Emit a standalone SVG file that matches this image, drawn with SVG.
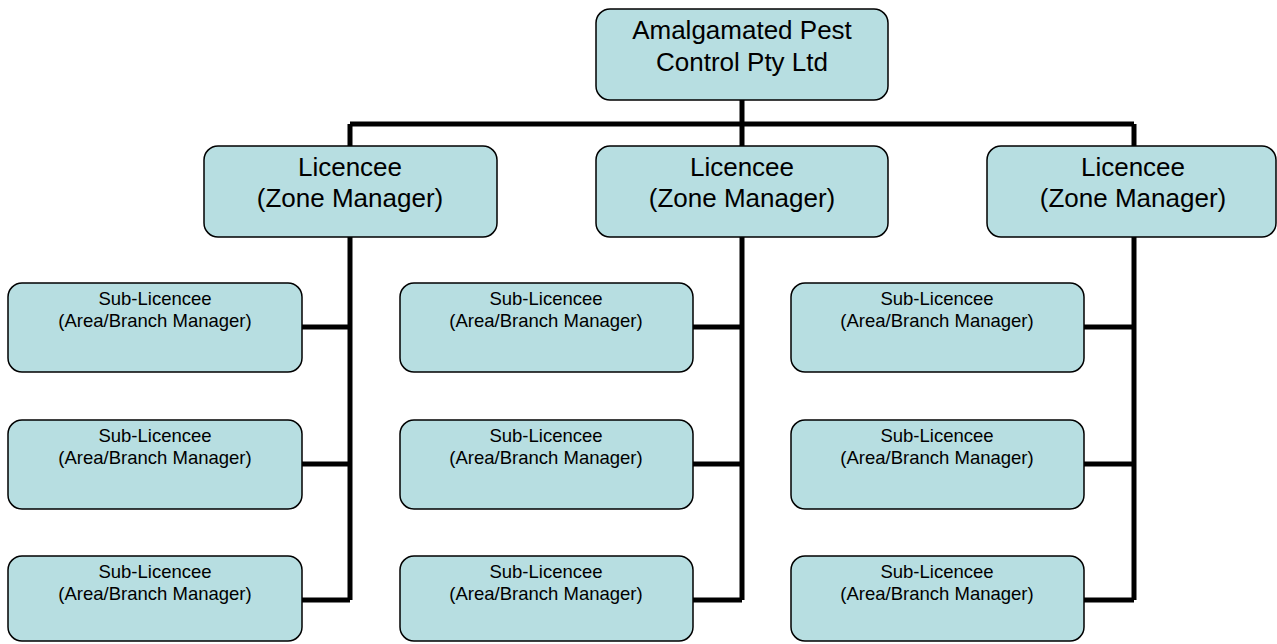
<svg xmlns="http://www.w3.org/2000/svg" width="1277" height="644" viewBox="0 0 1277 644">
<style>
.box{fill:#B7DEE1;stroke:#000;stroke-width:1.5}
.t1{font-family:"Liberation Sans",Arial,sans-serif;font-size:26px;fill:#000;text-anchor:middle}
.t2{font-family:"Liberation Sans",Arial,sans-serif;font-size:18.5px;fill:#000;text-anchor:middle}
.c{fill:none;stroke:#000;stroke-width:5}
</style>
<rect width="1277" height="644" fill="#fff"/>
<g id="connectors">
<path class="c" d="M742 100V124M350 124H1134M350 124V146M742 124V146M1134 124V146"/>
<path class="c" d="M350 237V600M302 327H350M302 464H350M302 600H350"/>
<path class="c" d="M742 237V600M693 327H742M693 464H742M693 600H742"/>
<path class="c" d="M1134 237V600M1084 327H1134M1084 464H1134M1084 600H1134"/>
</g>
<g id="root"><rect class="box" x="596" y="9" width="292" height="91" rx="14"/><text class="t1" x="742" y="39">Amalgamated Pest</text><text class="t1" x="742" y="71">Control Pty Ltd</text></g>
<g id="lic1"><rect class="box" x="204" y="146" width="293" height="91" rx="14"/><text class="t1" x="350" y="176">Licencee</text><text class="t1" x="350" y="207">(Zone Manager)</text></g>
<g id="lic2"><rect class="box" x="596" y="146" width="292" height="91" rx="14"/><text class="t1" x="742" y="176">Licencee</text><text class="t1" x="742" y="207">(Zone Manager)</text></g>
<g id="lic3"><rect class="box" x="987" y="146" width="289" height="91" rx="14"/><text class="t1" x="1133" y="176">Licencee</text><text class="t1" x="1133" y="207">(Zone Manager)</text></g>
<g id="sub11"><rect class="box" x="8" y="283" width="294" height="89" rx="14"/><text class="t2" x="155" y="305">Sub-Licencee</text><text class="t2" x="155" y="327">(Area/Branch Manager)</text></g>
<g id="sub12"><rect class="box" x="8" y="420" width="294" height="89" rx="14"/><text class="t2" x="155" y="442">Sub-Licencee</text><text class="t2" x="155" y="464">(Area/Branch Manager)</text></g>
<g id="sub13"><rect class="box" x="8" y="556" width="294" height="85" rx="14"/><text class="t2" x="155" y="578">Sub-Licencee</text><text class="t2" x="155" y="600">(Area/Branch Manager)</text></g>
<g id="sub21"><rect class="box" x="400" y="283" width="293" height="89" rx="14"/><text class="t2" x="546" y="305">Sub-Licencee</text><text class="t2" x="546" y="327">(Area/Branch Manager)</text></g>
<g id="sub22"><rect class="box" x="400" y="420" width="293" height="89" rx="14"/><text class="t2" x="546" y="442">Sub-Licencee</text><text class="t2" x="546" y="464">(Area/Branch Manager)</text></g>
<g id="sub23"><rect class="box" x="400" y="556" width="293" height="85" rx="14"/><text class="t2" x="546" y="578">Sub-Licencee</text><text class="t2" x="546" y="600">(Area/Branch Manager)</text></g>
<g id="sub31"><rect class="box" x="791" y="283" width="293" height="89" rx="14"/><text class="t2" x="937" y="305">Sub-Licencee</text><text class="t2" x="937" y="327">(Area/Branch Manager)</text></g>
<g id="sub32"><rect class="box" x="791" y="420" width="293" height="89" rx="14"/><text class="t2" x="937" y="442">Sub-Licencee</text><text class="t2" x="937" y="464">(Area/Branch Manager)</text></g>
<g id="sub33"><rect class="box" x="791" y="556" width="293" height="85" rx="14"/><text class="t2" x="937" y="578">Sub-Licencee</text><text class="t2" x="937" y="600">(Area/Branch Manager)</text></g>
</svg>
